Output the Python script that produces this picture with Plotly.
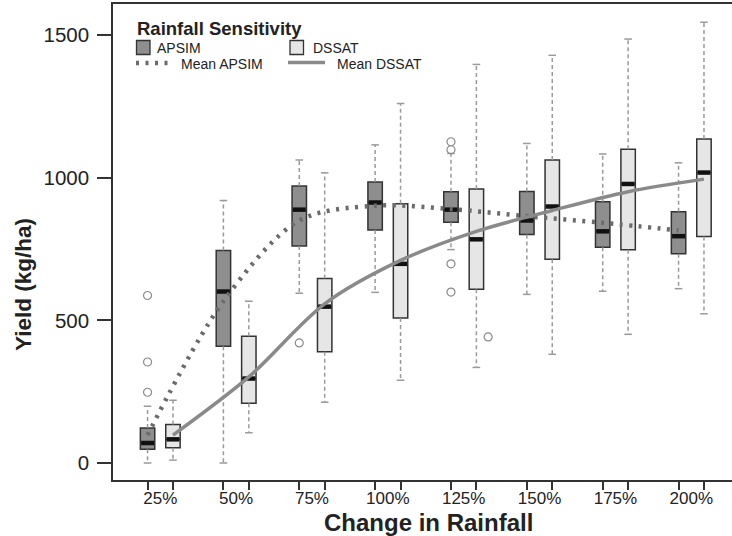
import plotly.graph_objects as go

# ---------------- data ----------------
categories = ["25%", "50%", "75%", "100%", "125%", "150%", "175%", "200%"]

apsim_low  = [0,   0,   595, 598,  748,  591,  602,  611]
apsim_q1   = [48,  409, 761, 817,  844,  801,  756,  733]
apsim_med  = [70,  601, 888, 913,  888,  850,  812,  795]
apsim_q3   = [123, 745, 971, 985,  951,  952,  916,  881]
apsim_high = [199, 920, 1062, 1115, 1085, 1120, 1083, 1052]
apsim_mean = [98,  567, 850, 902,  890,  865,  842,  815]
apsim_outliers = [[587, 354, 248], [], [421], [], [1126, 1098, 698, 599], [], [], []]

dssat_low  = [10,  106, 213, 290,  335,  381,  451,  523]
dssat_q1   = [53,  209, 390, 508,  609,  714,  747,  794]
dssat_med  = [83,  296, 548, 698,  784,  899,  978,  1018]
dssat_q3   = [135, 444, 647, 909,  960,  1062, 1100, 1136]
dssat_high = [220, 567, 1017, 1260, 1397, 1429, 1486, 1545]
dssat_mean = [98,  302, 558, 710,  812,  885,  951,  995]
dssat_outliers = [[], [], [], [], [442], [], [], []]

# ---------------- style ----------------
FONT = "Liberation Sans"
APSIM_FILL = "#8e8e8e"
DSSAT_FILL = "#e6e6e6"
EDGE = "#333333"
WHISK = "#9a9a9a"
DOT = "3px,6.5px"
OFF = 0.1675      # half distance between paired boxes (category units)
BW = 0.19         # box width
CAP = 0.05        # half width of whisker caps

idx = list(range(len(categories)))
xa = [i - OFF for i in idx]
xd = [i + OFF for i in idx]

fig = go.Figure()


def whiskers(xs, low, q1, q3, high):
    wx, wy, cx, cy = [], [], [], []
    for x, lo, a, b, hi in zip(xs, low, q1, q3, high):
        wx += [x, x, None, x, x, None]
        wy += [b, hi, None, a, lo, None]
        cx += [x - CAP, x + CAP, None, x - CAP, x + CAP, None]
        cy += [hi, hi, None, lo, lo, None]
    return wx, wy, cx, cy


for xs, lo, a, b, hi in [(xa, apsim_low, apsim_q1, apsim_q3, apsim_high),
                         (xd, dssat_low, dssat_q1, dssat_q3, dssat_high)]:
    wx, wy, cx, cy = whiskers(xs, lo, a, b, hi)
    fig.add_trace(go.Scatter(x=wx, y=wy, mode="lines", showlegend=False, hoverinfo="skip",
                             line=dict(color=WHISK, width=1.5, dash="4px,3px")))
    fig.add_trace(go.Scatter(x=cx, y=cy, mode="lines", showlegend=False, hoverinfo="skip",
                             line=dict(color=WHISK, width=1.5)))

fig.add_trace(go.Box(name="APSIM", x=xa, q1=apsim_q1, median=apsim_med, q3=apsim_q3,
                     lowerfence=apsim_q1, upperfence=apsim_q3, width=BW, whiskerwidth=0,
                     fillcolor=APSIM_FILL, line=dict(color=EDGE, width=1.5), showlegend=False))
fig.add_trace(go.Box(name="DSSAT", x=xd, q1=dssat_q1, median=dssat_med, q3=dssat_q3,
                     lowerfence=dssat_q1, upperfence=dssat_q3, width=BW, whiskerwidth=0,
                     fillcolor=DSSAT_FILL, line=dict(color=EDGE, width=1.5), showlegend=False))

# thick medians
for xs, med in [(xa, apsim_med), (xd, dssat_med)]:
    mx, my = [], []
    for x, m in zip(xs, med):
        mx += [x - BW / 2 + 0.01, x + BW / 2 - 0.01, None]
        my += [m, m, None]
    fig.add_trace(go.Scatter(x=mx, y=my, mode="lines", showlegend=False, hoverinfo="skip",
                             line=dict(color="#111111", width=4.5)))

# outliers
ox, oy = [], []
for x, vals in zip(xa, apsim_outliers):
    for v in vals:
        ox.append(x); oy.append(v)
for x, vals in zip(xd, dssat_outliers):
    for v in vals:
        ox.append(x + 0.155); oy.append(v)
fig.add_trace(go.Scatter(x=ox, y=oy, mode="markers", showlegend=False,
                         marker=dict(symbol="circle-open", size=8, color="#8a8a8a",
                                     line=dict(width=1.2, color="#8a8a8a"))))

# means
fig.add_trace(go.Scatter(x=xa, y=apsim_mean, mode="lines", name="Mean APSIM", showlegend=False,
                         xaxis="x2", line=dict(color="#6b6b6b", width=4.5, dash=DOT,
                                               shape="spline", smoothing=0.9)))
fig.add_trace(go.Scatter(x=xd, y=dssat_mean, mode="lines", name="Mean DSSAT", showlegend=False,
                         xaxis="x2", line=dict(color="#8a8a8a", width=3.5,
                                               shape="spline", smoothing=0.9)))

# ---------------- layout ----------------
L, R, T, B = 113, 732, 4, 480
W, H = R - L, B - T


def px(x):
    return (x - L) / W


def py(y):
    return (B - y) / H


XR = [-0.623, 7.537]
YR = [-59.6, 1608.8]

shapes = [
    dict(type="rect", xref="paper", yref="paper", x0=px(136.5), x1=px(150), y0=py(54.5), y1=py(40.5),
         fillcolor=APSIM_FILL, line=dict(color=EDGE, width=1.3)),
    dict(type="rect", xref="paper", yref="paper", x0=px(290), x1=px(303.5), y0=py(54.5), y1=py(40.5),
         fillcolor=DSSAT_FILL, line=dict(color=EDGE, width=1.3)),
    dict(type="line", xref="paper", yref="paper", x0=px(136), x1=px(172), y0=py(63), y1=py(63),
         line=dict(color="#6b6b6b", width=4.5, dash=DOT)),
    dict(type="line", xref="paper", yref="paper", x0=px(288), x1=px(325), y0=py(62.5), y1=py(62.5),
         line=dict(color="#8a8a8a", width=3.5)),
]

txt = dict(family=FONT, size=14, color="#222222")
annotations = [
    dict(text="Rainfall Sensitivity", xref="paper", yref="paper", x=px(135), y=py(28.5),
         xanchor="left", yanchor="middle", showarrow=False,
         font=dict(family=FONT, size=18.5, color="#222222", weight="bold")),
    dict(text="APSIM", xref="paper", yref="paper", x=px(155), y=py(47.5),
         xanchor="left", yanchor="middle", showarrow=False, font=txt),
    dict(text="DSSAT", xref="paper", yref="paper", x=px(311), y=py(47.5),
         xanchor="left", yanchor="middle", showarrow=False, font=txt),
    dict(text="Mean APSIM", xref="paper", yref="paper", x=px(178.5), y=py(63.5),
         xanchor="left", yanchor="middle", showarrow=False, font=txt),
    dict(text="Mean DSSAT", xref="paper", yref="paper", x=px(335), y=py(63.5),
         xanchor="left", yanchor="middle", showarrow=False, font=txt),
    dict(text="Yield (kg/ha)", xref="paper", yref="paper", x=px(23), y=py(285),
         xanchor="center", yanchor="middle", textangle=-90, showarrow=False,
         font=dict(family=FONT, size=22.5, color="#222222", weight="bold")),
    dict(text="Change in Rainfall", xref="paper", yref="paper", x=px(428), y=py(522.5),
         xanchor="center", yanchor="middle", showarrow=False,
         font=dict(family=FONT, size=24, color="#222222", weight="bold")),
]

fig.update_layout(
    width=732, height=536,
    margin=dict(l=L, r=732 - R, t=T, b=536 - B, pad=0, autoexpand=False),
    paper_bgcolor="white", plot_bgcolor="white",
    font=dict(family=FONT, color="#222222"),
    showlegend=False,
    boxmode="overlay",
    xaxis=dict(range=XR, tickvals=xa + xd, ticktext=[""] * (2 * len(idx)),
               ticks="outside", ticklen=8, tickwidth=1.5, tickcolor=EDGE,
               showline=True, linewidth=1.5, linecolor=EDGE, mirror=True,
               showgrid=False, zeroline=False, automargin=False),
    xaxis2=dict(range=XR, overlaying="x", anchor="y", side="bottom",
                tickvals=idx, ticktext=categories, ticks="outside", ticklen=3,
                tickcolor="rgba(0,0,0,0)", showline=False, showgrid=False, zeroline=False,
                automargin=False,
                tickfont=dict(family=FONT, size=17, color="#222222")),
    yaxis=dict(range=YR, tickvals=[0, 500, 1000, 1500], ticks="outside", ticklen=14,
               tickwidth=1.5, tickcolor=EDGE, showline=True, linewidth=1.5, linecolor=EDGE,
               showgrid=False, zeroline=False, ticklabelstandoff=4, automargin=False,
               tickfont=dict(family=FONT, size=20.5, color="#222222")),
    shapes=shapes,
    annotations=annotations,
)

fig.write_html("out.html")
